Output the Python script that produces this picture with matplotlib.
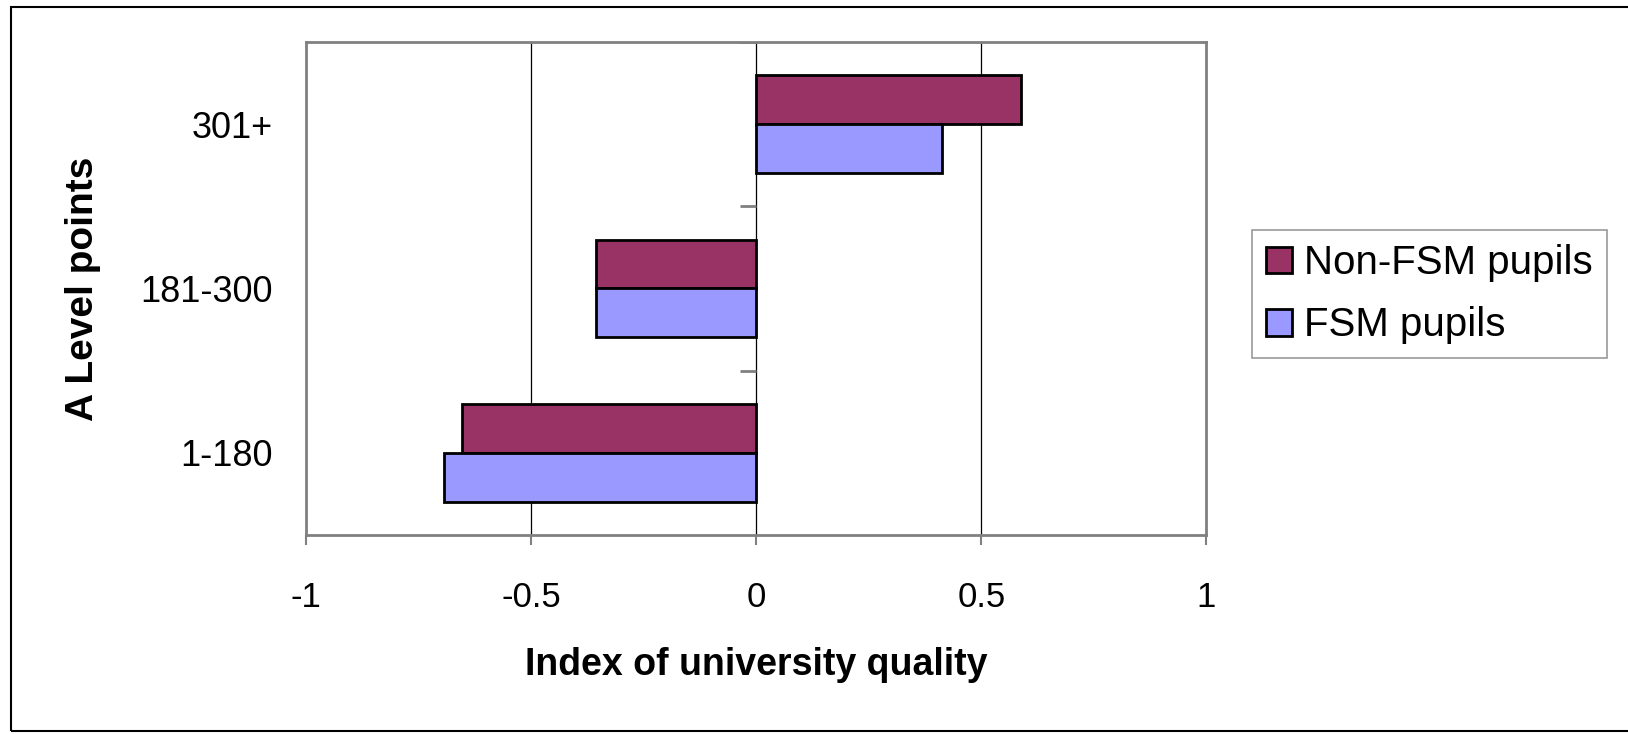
import numpy as np
import matplotlib.pyplot as plt
from matplotlib.patches import Rectangle

plt.rcParams["font.family"] = ["Liberation Sans", "DejaVu Sans"]

# Data
categories = ["1-180", "181-300", "301+"]
non_fsm = [-0.653, -0.355, 0.588]
fsm = [-0.694, -0.355, 0.413]
series_names = ["Non-FSM pupils", "FSM pupils"]
x_ticks = [-1, -0.5, 0, 0.5, 1]
x_tick_labels = ["-1", "-0.5", "0", "0.5", "1"]


def draw_chart():
    fig = plt.figure(figsize=(16.28, 7.34), dpi=100)
    ax = fig.add_axes([0.188, 0.271, 0.553, 0.672])

    # Bars for each group
    pos = np.arange(len(categories))
    h = 0.297
    ax.barh(pos + h / 2, non_fsm, height=h, color="#993366",
            edgecolor="black", linewidth=2, label=series_names[0], zorder=3)
    ax.barh(pos - h / 2, fsm, height=h, color="#9999FF",
            edgecolor="black", linewidth=2, label=series_names[1], zorder=3)

    ax.set_xlim(-1, 1)
    ax.set_ylim(-0.5, 2.5)

    # Vertical gridlines
    for x in [-0.5, 0, 0.5]:
        ax.axvline(x, color="black", linewidth=0.9, zorder=1)

    # Category tick marks on the zero axis
    ax.hlines([0.5, 1.5, 2.5], -0.035, 0, color="#808080", linewidth=2, zorder=2)

    for s in ax.spines.values():
        s.set_color("#808080")
        s.set_linewidth(2)

    ax.set_xticks(x_ticks)
    ax.set_xticklabels(x_tick_labels, fontsize=25)
    ax.tick_params(axis="x", direction="out", length=7, width=1.5,
                   color="#808080", pad=26)
    ax.set_yticks(pos)
    ax.set_yticklabels(categories, fontsize=26)
    ax.tick_params(axis="y", length=0, pad=24)

    ax.set_xlabel("Index of university quality", fontsize=27,
                  fontweight="bold", labelpad=24)
    ax.set_ylabel("A Level points", fontsize=28, fontweight="bold", labelpad=28)

    leg = fig.legend(loc="upper left", bbox_to_anchor=(1252 / 1628, 1 - 230 / 734),
                     fontsize=29, frameon=True, fancybox=False,
                     handlelength=0.65, handleheight=0.65, handletextpad=0.3,
                     borderpad=0.35, labelspacing=0.6, borderaxespad=0)
    leg.get_frame().set_edgecolor("#808080")
    leg.get_frame().set_linewidth(1.2)

    # Outer frame of the chart
    fig.add_artist(Rectangle((11 / 1628, 3 / 734), 1.0, 1 - 10 / 734,
                             transform=fig.transFigure, fill=False,
                             edgecolor="black", linewidth=1.5))

    fig.savefig("out.png", dpi=100)


def main():
    draw_chart()


if __name__ == "__main__":
    main()
